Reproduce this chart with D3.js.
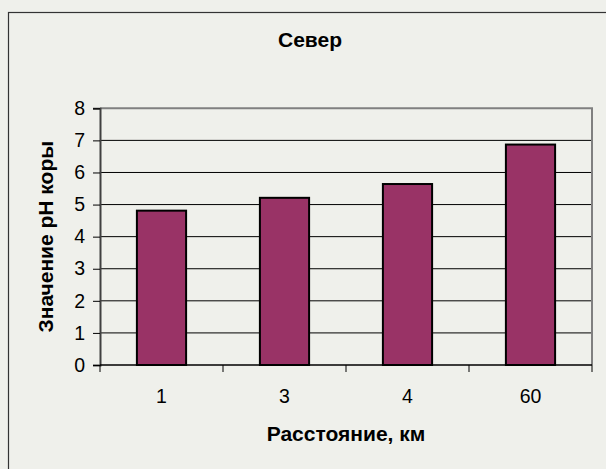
<!DOCTYPE html>
<html>
<head>
<meta charset="utf-8">
<script src="https://cdn.jsdelivr.net/npm/d3@7"></script>
<style>
  html, body { margin: 0; padding: 0; background: #eff0eb; }
  svg { display: block; }
  text { font-family: "Liberation Sans", Arial, sans-serif; fill: #000; }
</style>
</head>
<body>
<svg id="chart" width="606" height="469"></svg>
<script>
// Bark pH by distance from the source, northern direction
const categories = ["1", "3", "4", "60"];
const phValues = [4.81, 5.21, 5.64, 6.87];
const yTicks = [0, 1, 2, 3, 4, 5, 6, 7, 8];
const title = "Север";
const xTitle = "Расстояние, км";
const yTitle = "Значение pH коры";

const svg = d3.select("#chart");
const plot = { left: 100, top: 108.3, right: 592, bottom: 365 };

// outer chart frame
svg.append("rect")
  .attr("x", 8.5).attr("y", 12.5)
  .attr("width", 620).attr("height", 480)
  .attr("fill", "#eff0eb")
  .attr("stroke", "#333").attr("stroke-width", 1.2);

const x = d3.scaleBand()
  .domain(categories)
  .range([plot.left, plot.right])
  .paddingInner(0.6).paddingOuter(0.3);

const y = d3.scaleLinear()
  .domain([0, 8])
  .range([plot.bottom, plot.top]);

// gridlines
svg.append("g")
  .selectAll("line")
  .data(yTicks.filter(d => d > 0 && d < 8))
  .join("line")
  .attr("x1", plot.left).attr("x2", plot.right)
  .attr("y1", d => y(d)).attr("y2", d => y(d))
  .attr("stroke", "#000").attr("stroke-width", 1);

// plot area top/right border
svg.append("path")
  .attr("d", `M${plot.left},${y(8)}H${plot.right}V${plot.bottom}`)
  .attr("fill", "none")
  .attr("stroke", "#808080").attr("stroke-width", 2);

// bars
svg.append("g")
  .selectAll("rect")
  .data(categories.map((c, i) => ({ c, v: phValues[i] })))
  .join("rect")
  .attr("x", d => x(d.c))
  .attr("y", d => y(d.v))
  .attr("width", x.bandwidth())
  .attr("height", d => y(0) - y(d.v))
  .attr("fill", "#993366")
  .attr("stroke", "#000").attr("stroke-width", 2);

// y axis
const yAxis = svg.append("g")
  .attr("transform", `translate(${plot.left},0)`)
  .call(d3.axisLeft(y).tickValues(yTicks).tickSize(7).tickPadding(8).tickFormat(d3.format("d")));
yAxis.select(".domain").attr("stroke", "#404040").attr("stroke-width", 2);
yAxis.selectAll(".tick line").attr("stroke", "#000");
yAxis.selectAll(".tick text")
  .style("font-family", "'Liberation Sans', Arial, sans-serif")
  .style("font-size", "19.5px").attr("fill", "#000");

// x axis: ticks at category boundaries, labels at band centres
const boundaries = categories.map((c, i) => plot.left + i * x.step());
boundaries.push(plot.right);
const xAxisG = svg.append("g");
xAxisG.append("line")
  .attr("x1", plot.left).attr("x2", plot.right)
  .attr("y1", plot.bottom).attr("y2", plot.bottom)
  .attr("stroke", "#000").attr("stroke-width", 1.5);
xAxisG.selectAll("line.tk")
  .data(boundaries)
  .join("line").attr("class", "tk")
  .attr("x1", d => d).attr("x2", d => d)
  .attr("y1", plot.bottom).attr("y2", plot.bottom + 7)
  .attr("stroke", "#000");
xAxisG.selectAll("text")
  .data(categories)
  .join("text")
  .attr("x", d => x(d) + x.bandwidth() / 2)
  .attr("y", 403)
  .attr("text-anchor", "middle")
  .style("font-size", "19.5px")
  .text(d => d);

// titles
svg.append("text")
  .attr("x", 310).attr("y", 47)
  .attr("text-anchor", "middle")
  .style("font-size", "21px").style("font-weight", "bold")
  .text(title);

svg.append("text")
  .attr("x", (plot.left + plot.right) / 2).attr("y", 441)
  .attr("text-anchor", "middle")
  .style("font-size", "21px").style("font-weight", "bold")
  .text(xTitle);

svg.append("text")
  .attr("transform", `translate(53,${(plot.top + plot.bottom) / 2}) rotate(-90)`)
  .attr("text-anchor", "middle")
  .style("font-size", "21px").style("font-weight", "bold")
  .text(yTitle);
</script>
</body>
</html>
